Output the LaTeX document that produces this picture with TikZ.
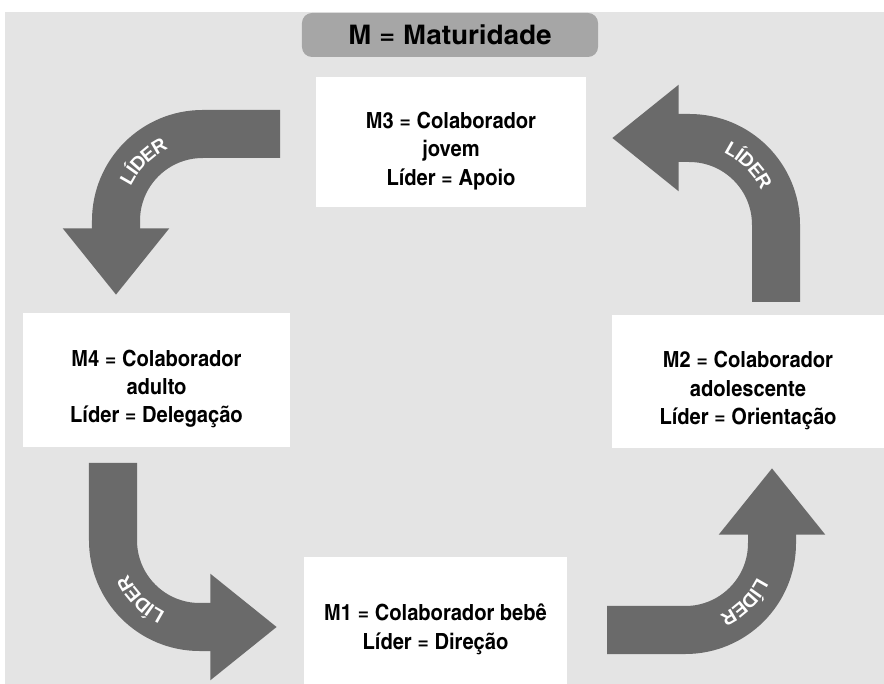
\documentclass[tikz,border=0pt]{standalone}
\usepackage{fontspec}
\usepackage{tikz}
\usetikzlibrary{arrows.meta,decorations.text}
\newfontfamily\condfont{texgyreheroscn-bold}[Extension=.otf,FakeStretch=1.1]
\newfontfamily\faixafont{texgyreheroscn-bold}[Extension=.otf,FakeStretch=1.26]
\newfontfamily\liderfont{Liberation Sans}
\definecolor{papel}{RGB}{228,228,228}
\definecolor{cinzaseta}{RGB}{106,106,106}
\definecolor{cinzafaixa}{RGB}{166,166,166}
\def\lider#1#2#3{\path[rotulo] ([shift={(#2)}]#1) -- (#1) -- ([shift={(#3)}]#1)}
\tikzstyle{caixa}=[fill=white,inner sep=0pt]
\tikzstyle{texto}=[align=center,yshift=-0.27cm,font=\condfont\fontsize{19}{24.2}\selectfont]
\tikzstyle{faixa}=[fill=cinzafaixa,rounded corners=0.3cm,minimum width=8.88cm,minimum height=1.32cm,font=\faixafont\fontsize{23}{23}\selectfont]
\tikzstyle{seta}=[draw=cinzaseta,line width=1.44cm,rounded corners=2.6cm,-{Triangle[width=3.06cm,length=2cm]}]
\tikzstyle{rotulo}=[rounded corners=2.6cm,decorate,decoration={text along path,text align=center,raise=-6pt,text color=white,text={|\liderfont\bfseries\fontsize{16.5}{16.5}\selectfont|LÍDER}}]

\begin{document}
\begin{tikzpicture}[x=0.03cm,y=-0.03cm]
    \useasboundingbox (0,0) rectangle (884,684);
    \fill[papel] (5,12) rectangle (884,684);
    \node[faixa] (mat) at (450,35) {M = Maturidade};
    \node[caixa,minimum width=8.1cm,minimum height=3.9cm,label={[texto]center:M3 = Colaborador\\jovem\\Líder = Apoio}] (m3) at (451,142) {};
    \node[caixa,minimum width=8.01cm,minimum height=4.02cm,label={[texto]center:M4 = Colaborador\\adulto\\Líder = Delegação}] (m4) at (156.5,380) {};
    \node[caixa,minimum width=8.16cm,minimum height=3.99cm,label={[texto]center:M2 = Colaborador\\adolescente\\Líder = Orientação}] (m2) at (748,381.5) {};
    \node[caixa,minimum width=7.89cm,minimum height=3.81cm,label={[texto]center:M1 = Colaborador bebê\\Líder = Direção}] (m1) at (435.5,620.5) {};
    % setas
    \coordinate (t1) at (280,134); \coordinate (c1) at (116,134); \coordinate (p1) at (116,295);
    \coordinate (t2) at (113,463); \coordinate (c2) at (113,627); \coordinate (p2) at (277,627);
    \coordinate (t3) at (607,630); \coordinate (c3) at (772,630); \coordinate (p3) at (772,468);
    \coordinate (t4) at (776,302); \coordinate (c4) at (776,138); \coordinate (p4) at (612,138);
    \draw[seta] (t1) -- (c1) -- (p1);
    \draw[seta] (t2) -- (c2) -- (p2);
    \draw[seta] (t3) -- (c3) -- (p3);
    \draw[seta] (t4) -- (c4) -- (p4);
    \lider{c1}{0,130}{130,0};
    \lider{c2}{130,0}{0,-130};
    \lider{c3}{0,-130}{-130,0};
    \lider{c4}{-130,0}{0,130};
\end{tikzpicture}
\end{document}
